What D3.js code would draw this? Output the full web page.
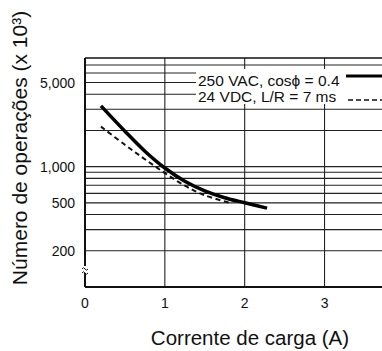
<!DOCTYPE html>
<html>
<head>
<meta charset="utf-8">
<script src="https://cdn.jsdelivr.net/npm/d3@7"></script>
<style>
  body { margin: 0; background: #fff; }
  svg { display: block; font-family: "Liberation Sans", Arial, sans-serif; }
</style>
</head>
<body>
<svg width="382" height="351"></svg>
<script>
// Data
const seriesNames = ["250 VAC, cos\u03d5 = 0.4", "24 VDC, L/R = 7 ms"];
const current = [0.2, 0.5, 0.75, 1.0, 1.25, 1.5, 1.75, 2.0, 2.28];
const opsAC = [3200, 1970, 1345, 975, 757, 630, 552, 501, 452];
const currentDC = [0.2, 0.5, 0.75, 1.0, 1.25, 1.5, 1.8];
const opsDC = [2150, 1520, 1153, 885, 695, 578, 504];
const xTicks = [0, 1, 2, 3];
const yLabelTicks = [200, 500, 1000, 5000];
const yGrid = [200, 300, 400, 500, 600, 700, 800, 900, 1000, 2000, 3000, 4000, 5000, 6000, 7000];

const svg = d3.select("svg");
const mLeft = 85, mRight = 390, mTop = 58, mBottom = 287;

const x = d3.scaleLinear().domain([0, 3.82]).range([mLeft, mRight]);
const y = d3.scaleLog().domain([100, 8000]).range([mBottom, mTop]);

// Grid lines
svg.append("g").selectAll("line")
  .data(yGrid).enter().append("line")
  .attr("x1", mLeft).attr("x2", 382)
  .attr("y1", d => y(d)).attr("y2", d => y(d))
  .attr("stroke", "#222").attr("stroke-width", 1.1);

svg.append("g").selectAll("line")
  .data(xTicks.slice(1)).enter().append("line")
  .attr("x1", d => x(d)).attr("x2", d => x(d))
  .attr("y1", mTop).attr("y2", mBottom)
  .attr("stroke", "#222").attr("stroke-width", 1.1);

// Frame: top, left, bottom
svg.append("line").attr("x1", mLeft).attr("x2", 382).attr("y1", mTop).attr("y2", mTop)
  .attr("stroke", "#111").attr("stroke-width", 1.6);
svg.append("line").attr("x1", mLeft).attr("x2", 382).attr("y1", mBottom).attr("y2", mBottom)
  .attr("stroke", "#111").attr("stroke-width", 2);
svg.append("line").attr("x1", mLeft).attr("x2", mLeft).attr("y1", mTop).attr("y2", mBottom)
  .attr("stroke", "#111").attr("stroke-width", 2);

// Axis break mark
const by = 270;
svg.append("rect").attr("x", mLeft - 3).attr("y", by - 4).attr("width", 6).attr("height", 7).attr("fill", "#fff");
[-2, 2].forEach(o => {
  svg.append("path")
    .attr("d", `M${mLeft - 3},${by + o + 1} q1.5,-2.5 3,0 t3,0`)
    .attr("fill", "none").attr("stroke", "#111").attr("stroke-width", 1);
});

// Tick labels
svg.append("g").selectAll("text")
  .data(yLabelTicks).enter().append("text")
  .attr("x", mLeft - 10).attr("y", d => y(d)).attr("dy", "0.36em")
  .attr("text-anchor", "end").attr("font-size", 14).attr("fill", "#111")
  .text(d => d3.format(",")(d));

svg.append("g").selectAll("text")
  .data(xTicks).enter().append("text")
  .attr("x", d => x(d)).attr("y", 303).attr("dy", "0.36em")
  .attr("text-anchor", "middle").attr("font-size", 14).attr("fill", "#111")
  .text(d => d);

// Axis titles
svg.append("text")
  .attr("x", 250).attr("y", 345)
  .attr("text-anchor", "middle").attr("font-size", 20.5).attr("fill", "#111")
  .text("Corrente de carga (A)");

svg.append("text")
  .attr("transform", "translate(27,148) rotate(-90)")
  .attr("text-anchor", "middle").attr("font-size", 21).attr("fill", "#111")
  .text("Número de operações (x 10³)");

// Curves
const line = d3.line().x(d => x(d[0])).y(d => y(d[1])).curve(d3.curveCatmullRom.alpha(0.5));

svg.append("path")
  .datum(currentDC.map((c, i) => [c, opsDC[i]]))
  .attr("d", line).attr("fill", "none")
  .attr("stroke", "#111").attr("stroke-width", 2).attr("stroke-dasharray", "5,3.5");

svg.append("path")
  .datum(current.map((c, i) => [c, opsAC[i]]))
  .attr("d", line).attr("fill", "none")
  .attr("stroke", "#000").attr("stroke-width", 3.5);

// Legend
const lg = svg.append("g");
lg.append("rect").attr("x", 196).attr("y", 69).attr("width", 186).attr("height", 35).attr("fill", "#fff");
lg.append("text").attr("x", 198).attr("y", 86).attr("font-size", 15.5).attr("fill", "#111").text(seriesNames[0]);
lg.append("text").attr("x", 198).attr("y", 102).attr("font-size", 15.5).attr("fill", "#111").text(seriesNames[1]);
lg.append("line").attr("x1", 346).attr("x2", 382).attr("y1", 76).attr("y2", 76)
  .attr("stroke", "#000").attr("stroke-width", 3);
lg.append("line").attr("x1", 348).attr("x2", 382).attr("y1", 100).attr("y2", 100)
  .attr("stroke", "#111").attr("stroke-width", 1.6).attr("stroke-dasharray", "5,3");
</script>
</body>
</html>
